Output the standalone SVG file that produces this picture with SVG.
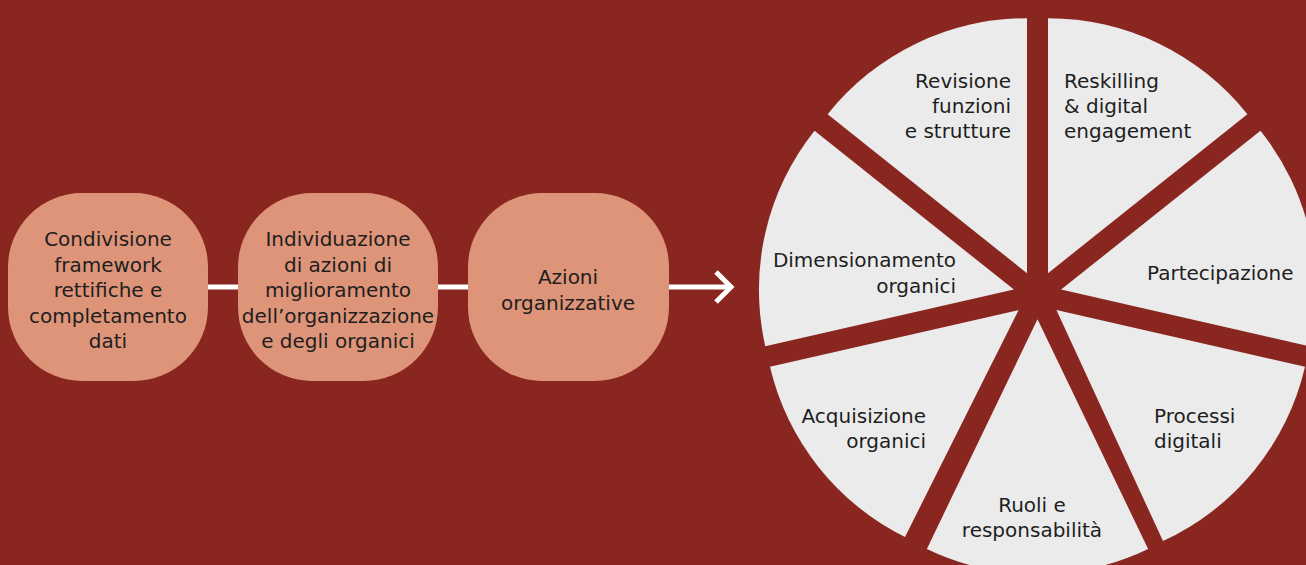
<svg xmlns="http://www.w3.org/2000/svg" width="1306" height="565" viewBox="0 0 1306 565">
  <style>
    .box { fill: #DE9478; }
    .wedge { fill: #EBEBEB; }
    .t { font-family: "DejaVu Sans", "Liberation Sans", sans-serif; font-size: 20px; fill: #1E1E1E; }
    .c { text-anchor: middle; }
    .e { text-anchor: end; }
    .conn { stroke: #FFFFFF; stroke-width: 5; fill: none; }
  </style>
  <rect x="0" y="0" width="1306" height="565" fill="#8A2620"/>

  <g id="connectors">
    <line class="conn" x1="206" y1="287" x2="240" y2="287"/>
    <line class="conn" x1="436" y1="287" x2="470" y2="287"/>
    <line class="conn" x1="667" y1="287" x2="730" y2="287"/>
    <path class="conn" d="M716,272 L731,287 L716,302" stroke-linejoin="miter"/>
  </g>

  <g id="node-condivisione">
    <rect class="box" x="8" y="193" width="200" height="188" rx="74" ry="74"/>
    <text class="t c" x="108" y="246">Condivisione</text>
    <text class="t c" x="108" y="272">framework</text>
    <text class="t c" x="108" y="297">rettifiche e</text>
    <text class="t c" x="108" y="323">completamento</text>
    <text class="t c" x="108" y="348">dati</text>
  </g>

  <g id="node-individuazione">
    <rect class="box" x="238" y="193" width="200" height="188" rx="74" ry="74"/>
    <text class="t c" x="338" y="246">Individuazione</text>
    <text class="t c" x="338" y="272">di azioni di</text>
    <text class="t c" x="338" y="297">miglioramento</text>
    <text class="t c" x="338" y="323">dell’organizzazione</text>
    <text class="t c" x="338" y="348">e degli organici</text>
  </g>

  <g id="node-azioni">
    <rect class="box" x="468" y="193" width="201" height="188" rx="74" ry="74"/>
    <text class="t c" x="568" y="284">Azioni</text>
    <text class="t c" x="568" y="310">organizzative</text>
  </g>

  <g id="node-reskilling">
    <path class="wedge" d="M1048,273.2 L1048,18.2 A255,255 0 0 1 1247.37,114.21 Z"/>
    <text class="t" x="1064" y="88">Reskilling</text>
    <text class="t" x="1064" y="113">&amp; digital</text>
    <text class="t" x="1064" y="138">engagement</text>
  </g>

  <g id="node-partecipazione">
    <path class="wedge" d="M1061.09,289.62 L1260.46,130.63 A255,255 0 0 1 1309.7,346.36 Z"/>
    <text class="t" x="1147" y="280">Partecipazione</text>
  </g>

  <g id="node-processi">
    <path class="wedge" d="M1056.42,310.09 L1305.03,366.83 A255,255 0 0 1 1163,541 Z"/>
    <text class="t" x="1154" y="423">Processi</text>
    <text class="t" x="1154" y="448">digitali</text>
  </g>

  <g id="node-ruoli">
    <path class="wedge" d="M1037.5,319.2 L1148.14,548.95 A255,255 0 0 1 926.86,548.95 Z"/>
    <text class="t c" x="1032" y="512">Ruoli e</text>
    <text class="t c" x="1032" y="537">responsabilità</text>
  </g>

  <g id="node-acquisizione">
    <path class="wedge" d="M1018.58,310.09 L905,537 A255,255 0 0 1 769.97,366.83 Z"/>
    <text class="t e" x="926" y="423">Acquisizione</text>
    <text class="t e" x="926" y="448">organici</text>
  </g>

  <g id="node-dimensionamento">
    <path class="wedge" d="M1013.91,289.62 L765.3,346.36 A255,255 0 0 1 814.54,130.63 Z"/>
    <text class="t e" x="956" y="267">Dimensionamento</text>
    <text class="t e" x="956" y="293">organici</text>
  </g>

  <g id="node-revisione">
    <path class="wedge" d="M1027,273.2 L827.63,114.21 A255,255 0 0 1 1027,18.2 Z"/>
    <text class="t e" x="1011" y="88">Revisione</text>
    <text class="t e" x="1011" y="113">funzioni</text>
    <text class="t e" x="1011" y="138">e strutture</text>
  </g>
</svg>
